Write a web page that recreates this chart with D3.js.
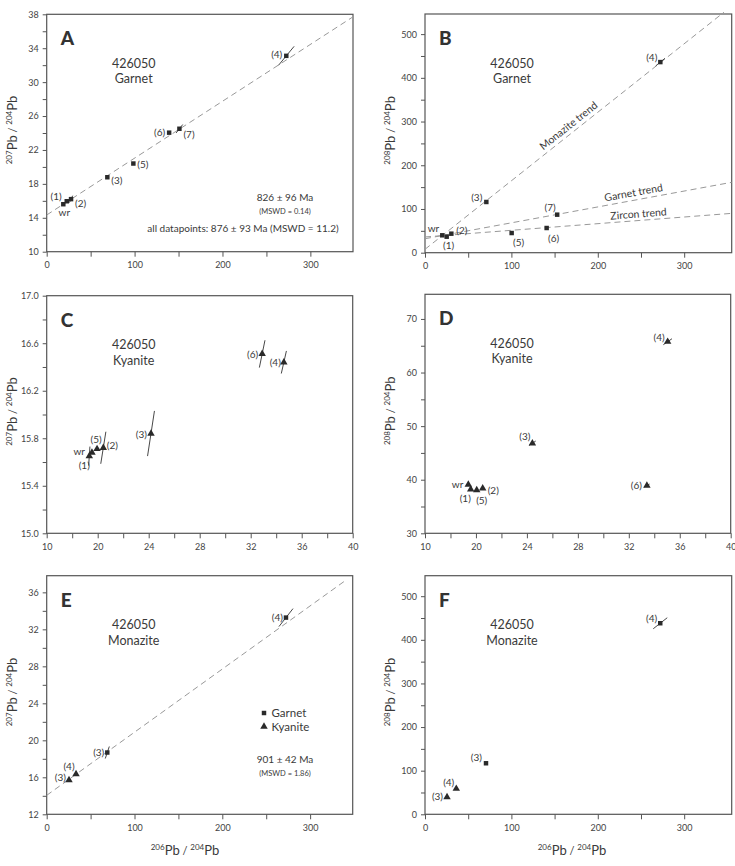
<!DOCTYPE html>
<html>
<head>
<meta charset="utf-8">
<script src="https://cdn.jsdelivr.net/npm/d3@7"></script>
<style>
  body { margin: 0; background: #fff; }
  svg { display: block; }
  text { font-family: Lato, "Open Sans", sans-serif; fill: #3a3a3a; }
  .tick text { font-size: 9px; fill: #444; }
  .tick line { stroke: #555; }
</style>
</head>
<body>
<svg id="chart" width="735" height="866"></svg>
<script>
// ---- data ----
const sample = "426050";

// A: garnet 207/204 vs 206/204
const labelsA = ["wr", "(1)", "(2)", "(3)", "(5)", "(6)", "(7)", "(4)"];
const xA = [18.9, 22.8, 27.7, 69, 98.6, 139.3, 151, 272.6];
const yA = [15.6, 15.95, 16.2, 18.78, 20.4, 24.04, 24.5, 33.1];
const exA = [0, 0, 1.9, 0, 0, 0, 3.8, 8.9];
const eyA = [0, 0, 0.41, 0, 0, 0, 0.5, 1.12];
const fitA = { x: [0, 348.5], y: [14.33, 37.7] };

// B: garnet 208/204 vs 206/204
const labelsB = ["wr", "(1)", "(2)", "(3)", "(5)", "(6)", "(7)", "(4)"];
const xB = [20, 25.1, 30.5, 71, 100.3, 140.8, 153, 272.4];
const yB = [39.8, 36.6, 43.5, 116, 45, 56.5, 87, 436];
const exB = [0, 0, 0, 0, 0, 0, 0, 5.4];
const eyB = [0, 0, 0, 0, 0, 0, 0, 8.7];
const trendNames = ["Monazite trend", "Garnet trend", "Zircon trend"];
const trendX = [[0, 346], [0, 355], [0, 355]];
const trendY = [[7.8, 550], [32, 161], [36, 90]];
const trendLabelAt = [171.6, 243, 247.7];

// C: kyanite 207/204 vs 206/204
const labelsC = ["wr", "(1)", "(5)", "(2)", "(3)", "(6)", "(4)"];
const xC = [19.55, 19.34, 19.95, 20.44, 24.18, 32.9, 34.6];
const yC = [15.68, 15.65, 15.71, 15.72, 15.84, 16.51, 16.44];
const exC = [0, 0.05, 0, 0.2, 0.27, 0.22, 0.2];
const eyC = [0, 0.08, 0, 0.135, 0.19, 0.115, 0.095];

// D: kyanite 208/204 vs 206/204
const labelsD = ["wr", "(1)", "(5)", "(2)", "(3)", "(6)", "(4)"];
const xD = [19.4, 19.59, 20.06, 20.53, 24.43, 33.42, 35.05];
const yD = [39.1, 38.2, 38.08, 38.4, 46.8, 38.9, 65.75];
const exD = [0, 0, 0, 0, 0.26, 0.21, 0.34];
const eyD = [0, 0, 0, 0, 0.41, 0.28, 0.56];

// E, F: monazite-bearing fractions (garnet squares, kyanite triangles)
const labelsE = ["(3)", "(4)", "(3)", "(4)"];
const mineralE = ["Garnet", "Garnet", "Kyanite", "Kyanite"];
const xE = [69, 272.5, 25.4, 33.4];
const yE = [18.68, 33.27, 15.7, 16.35];
const exE = [2.3, 8, 0, 0];
const eyE = [0.65, 0.97, 0, 0];
const fitE = { x: [0, 342], y: [14.05, 37.4] };

const xF = [70.6, 272.3, 25.5, 36.2];
const yF = [117, 438, 39.7, 58.7];
const exF = [1.2, 8.1, 0, 0];
const eyF = [2.5, 12.6, 0, 0];

// ticks
const ticks206 = [0, 50, 100, 150, 200, 250, 300];
const tickLabels206 = ["0", "", "100", "", "200", "", "300"];
const ticks206Ky = [16, 18, 20, 22, 24, 26, 28, 30, 32, 34, 36, 38, 40];
const tickLabels206Ky = ["10", "", "20", "", "24", "", "28", "", "32", "", "36", "", "40"];
const ticksA = [10, 12, 14, 16, 18, 20, 22, 24, 26, 28, 30, 32, 34, 36, 38];
const tickLabelsA = ["10", "", "14", "", "18", "", "22", "", "26", "", "30", "", "34", "", "38"];
const ticks208 = [0, 50, 100, 150, 200, 250, 300, 350, 400, 450, 500];
const tickLabels208 = ["0", "", "100", "", "200", "", "300", "", "400", "", "500"];
const ticksC = [15.0, 15.2, 15.4, 15.6, 15.8, 16.0, 16.2, 16.4, 16.6, 16.8, 17.0];
const tickLabelsC = ["15.0", "", "15.4", "", "15.8", "", "16.2", "", "16.6", "", "17.0"];
const ticksD = [30, 35, 40, 45, 50, 55, 60, 65, 70];
const tickLabelsD = ["30", "", "40", "", "50", "", "60", "", "70"];
const ticksE = [12, 14, 16, 18, 20, 22, 24, 26, 28, 30, 32, 34, 36];
const tickLabelsE = ["12", "", "16", "", "20", "", "24", "", "28", "", "32", "", "36"];

// ---- drawing ----
const svg = d3.select("#chart");
const sq = d3.symbol().type(d3.symbolSquare).size(20);
const tri = d3.symbol().type(d3.symbolTriangle).size(24);

function isoTitle(g, x, y, rot, top, bottom) {
  const t = g.append("text")
    .attr("transform", `translate(${x},${y}) rotate(${rot})`)
    .attr("text-anchor", "middle");
  t.append("tspan").attr("font-size", 8).attr("dy", -5).text(top);
  t.append("tspan").attr("font-size", 13).attr("dy", 5).text("Pb");
  t.append("tspan").attr("font-size", 11).text("\u00a0/\u00a0");
  t.append("tspan").attr("font-size", 8).attr("dy", -5).text(bottom);
  t.append("tspan").attr("font-size", 13).attr("dy", 5).text("Pb");
}

function panel(p) {
  const g = svg.append("g");
  const b = p.box;
  const x = d3.scaleLinear().domain(p.xDomain).range([b.l, b.r]);
  const y = d3.scaleLinear().domain(p.yDomain).range([b.b, b.t]);

  g.append("g")
    .attr("transform", `translate(0,${b.b})`)
    .call(d3.axisBottom(x).tickValues(p.xTicks)
      .tickFormat((d, i) => p.xTickLabels[i]).tickSize(5).tickPadding(5))
    .call(s => s.select(".domain").remove());
  g.append("g")
    .attr("transform", `translate(${b.l},0)`)
    .call(d3.axisLeft(y).tickValues(p.yTicks)
      .tickFormat((d, i) => p.yTickLabels[i]).tickSize(4).tickPadding(4))
    .call(s => s.select(".domain").remove());

  g.append("rect")
    .attr("x", b.l).attr("y", b.t)
    .attr("width", b.r - b.l).attr("height", b.b - b.t)
    .attr("fill", "none").attr("stroke", "#555").attr("stroke-width", 1.2);

  // dashed regression / trend lines
  (p.lines || []).forEach(l => {
    g.append("line")
      .attr("x1", x(l.x[0])).attr("y1", y(l.y[0]))
      .attr("x2", x(l.x[1])).attr("y2", y(l.y[1]))
      .attr("stroke", "#999").attr("stroke-width", 1)
      .attr("stroke-dasharray", "6,4");
  });

  // error ellipses (very thin, drawn as slanted strokes)
  p.xs.forEach((xv, i) => {
    if (!p.ex[i]) return;
    g.append("line")
      .attr("x1", x(xv - p.ex[i])).attr("y1", y(p.ys[i] - p.ey[i]))
      .attr("x2", x(xv + p.ex[i])).attr("y2", y(p.ys[i] + p.ey[i]))
      .attr("stroke", "#333").attr("stroke-width", 0.9);
  });

  p.xs.forEach((xv, i) => {
    const shape = p.shapes[i] === "Kyanite" ? tri : sq;
    g.append("path")
      .attr("d", shape())
      .attr("transform", `translate(${x(xv)},${y(p.ys[i])})`)
      .attr("fill", "#2a2a2a");
    const [dx, dy, anchor] = p.labelPos[i];
    g.append("text")
      .attr("x", x(xv) + dx).attr("y", y(p.ys[i]) + dy)
      .attr("text-anchor", anchor)
      .attr("font-size", 10)
      .text(p.labels[i]);
  });

  g.append("text")
    .attr("x", b.l + 14).attr("y", b.t + 31)
    .attr("font-family", "'Liberation Sans', Arial, sans-serif")
    .attr("font-weight", 900).attr("font-size", 19)
    .style("fill", "#333")
    .text(p.letter);
  g.append("text")
    .attr("x", b.l + 87).attr("y", b.t + 53.5)
    .attr("text-anchor", "middle").attr("font-size", 12.5)
    .text(sample);
  g.append("text")
    .attr("x", b.l + 87).attr("y", b.t + 69)
    .attr("text-anchor", "middle").attr("font-size", 12.5)
    .text(p.mineral);

  isoTitle(g, b.l - 30, (b.t + b.b) / 2 - 3, -90, p.yIso, "204");
  return { g, x, y };
}

const garnetOnly = n => Array(n).fill("Garnet");
const kyOnly = n => Array(n).fill("Kyanite");

// A
const pA = panel({
  letter: "A", mineral: "Garnet", yIso: "207",
  box: { l: 46.7, r: 353, t: 14.3, b: 251.7 },
  xDomain: [0, 348.5], yDomain: [10, 38],
  xTicks: ticks206, xTickLabels: tickLabels206,
  yTicks: ticksA, yTickLabels: tickLabelsA,
  lines: [fitA],
  xs: xA, ys: yA, ex: exA, ey: eyA, labels: labelsA, shapes: garnetOnly(xA.length),
  labelPos: [[1, 12, "middle"], [-5, -1, "end"], [4, 8, "start"], [4, 7, "start"],
             [4, 4.5, "start"], [-4, 3.5, "end"], [4, 9, "start"], [-4, 2, "end"]]
});
pA.g.append("text").attr("x", 285).attr("y", 201).attr("text-anchor", "middle")
  .attr("font-size", 10).text("826 ± 96 Ma");
pA.g.append("text").attr("x", 285).attr("y", 213.5).attr("text-anchor", "middle")
  .attr("font-size", 7.5).text("(MSWD = 0.14)");
pA.g.append("text").attr("x", 243).attr("y", 232).attr("text-anchor", "middle")
  .attr("font-size", 10).text("all datapoints: 876 ± 93 Ma (MSWD = 11.2)");

// B
const pB = panel({
  letter: "B", mineral: "Garnet", yIso: "208",
  box: { l: 425, r: 731.7, t: 14, b: 252.7 },
  xDomain: [0, 355], yDomain: [0, 546],
  xTicks: ticks206, xTickLabels: tickLabels206,
  yTicks: ticks208, yTickLabels: tickLabels208,
  lines: trendX.map((tx, i) => ({ x: tx, y: trendY[i] })),
  xs: xB, ys: yB, ex: exB, ey: eyB, labels: labelsB, shapes: garnetOnly(xB.length),
  labelPos: [[-3, -3, "end"], [2, 12, "middle"], [5, 0, "start"], [-4, -1, "end"],
             [7, 13, "middle"], [7, 14, "middle"], [-7, -4, "middle"], [-3, -1, "end"]]
});
trendNames.forEach((name, i) => {
  const tx = trendLabelAt[i];
  const slope = (trendY[i][1] - trendY[i][0]) / (trendX[i][1] - trendX[i][0]);
  const ty = trendY[i][0] + slope * tx;
  const px = pB.x(tx), py = pB.y(ty);
  const ang = Math.atan2(pB.y(ty + slope * 10) - py, pB.x(tx + 10) - px) * 180 / Math.PI;
  pB.g.append("text")
    .attr("transform", `translate(${px},${py}) rotate(${ang})`)
    .attr("text-anchor", "middle").attr("dy", i === 2 ? -3 : -4)
    .attr("font-size", 10.5).text(name);
});

// C
panel({
  letter: "C", mineral: "Kyanite", yIso: "207",
  box: { l: 46.7, r: 352.7, t: 295.7, b: 533.3 },
  xDomain: [16, 40], yDomain: [15, 17],
  xTicks: ticks206Ky, xTickLabels: tickLabels206Ky,
  yTicks: ticksC, yTickLabels: tickLabelsC,
  xs: xC, ys: yC, ex: exC, ey: eyC, labels: labelsC, shapes: kyOnly(xC.length),
  labelPos: [[-7, 2.5, "end"], [-5, 13, "middle"], [-1, -6, "middle"], [3.5, 1.5, "start"],
             [-4, 4.5, "end"], [-4, 4, "end"], [-3, 4, "end"]]
});

// D
panel({
  letter: "D", mineral: "Kyanite", yIso: "208",
  box: { l: 425, r: 730.7, t: 294.3, b: 533.3 },
  xDomain: [16, 40], yDomain: [30, 74.6],
  xTicks: ticks206Ky, xTickLabels: tickLabels206Ky,
  yTicks: ticksD, yTickLabels: tickLabelsD,
  xs: xD, ys: yD, ex: exD, ey: eyD, labels: labelsD, shapes: kyOnly(xD.length),
  labelPos: [[-5, 3, "end"], [-5.5, 13, "middle"], [5, 14, "middle"], [5, 6, "start"],
             [-2, -3, "end"], [-5, 3.5, "end"], [-3, -1, "end"]]
});

// E
const pE = panel({
  letter: "E", mineral: "Monazite", yIso: "207",
  box: { l: 46.7, r: 352.7, t: 575.7, b: 814.3 },
  xDomain: [0, 348.5], yDomain: [12, 37.8],
  xTicks: ticks206, xTickLabels: tickLabels206,
  yTicks: ticksE, yTickLabels: tickLabelsE,
  lines: [fitE],
  xs: xE, ys: yE, ex: exE, ey: eyE, labels: labelsE, shapes: mineralE,
  labelPos: [[-3, 3, "end"], [-3, 3, "end"], [-3, 1, "end"], [-7, -4, "middle"]]
});
["Garnet", "Kyanite"].forEach((m, i) => {
  pE.g.append("path")
    .attr("d", (m === "Kyanite" ? tri : sq)())
    .attr("transform", `translate(264,${713 + i * 13.5})`)
    .attr("fill", "#2a2a2a");
  pE.g.append("text").attr("x", 271.5).attr("y", 717 + i * 13.5)
    .attr("font-size", 11.5).text(m);
});
pE.g.append("text").attr("x", 285).attr("y", 763).attr("text-anchor", "middle")
  .attr("font-size", 10).text("901 ± 42 Ma");
pE.g.append("text").attr("x", 285).attr("y", 775.5).attr("text-anchor", "middle")
  .attr("font-size", 7.5).text("(MSWD = 1.86)");
isoTitle(pE.g, 185, 855, 0, "206", "204");

// F
const pF = panel({
  letter: "F", mineral: "Monazite", yIso: "208",
  box: { l: 425, r: 731.7, t: 575.7, b: 814.3 },
  xDomain: [0, 355], yDomain: [0, 547],
  xTicks: ticks206, xTickLabels: tickLabels206,
  yTicks: ticks208, yTickLabels: tickLabels208,
  xs: xF, ys: yF, ex: exF, ey: eyF, labels: labelsE, shapes: mineralE,
  labelPos: [[-4, -2, "end"], [-3, -1, "end"], [-4, 3.5, "end"], [-2, -3, "end"]]
});
isoTitle(pF.g, 572, 855, 0, "206", "204");
</script>
</body>
</html>
